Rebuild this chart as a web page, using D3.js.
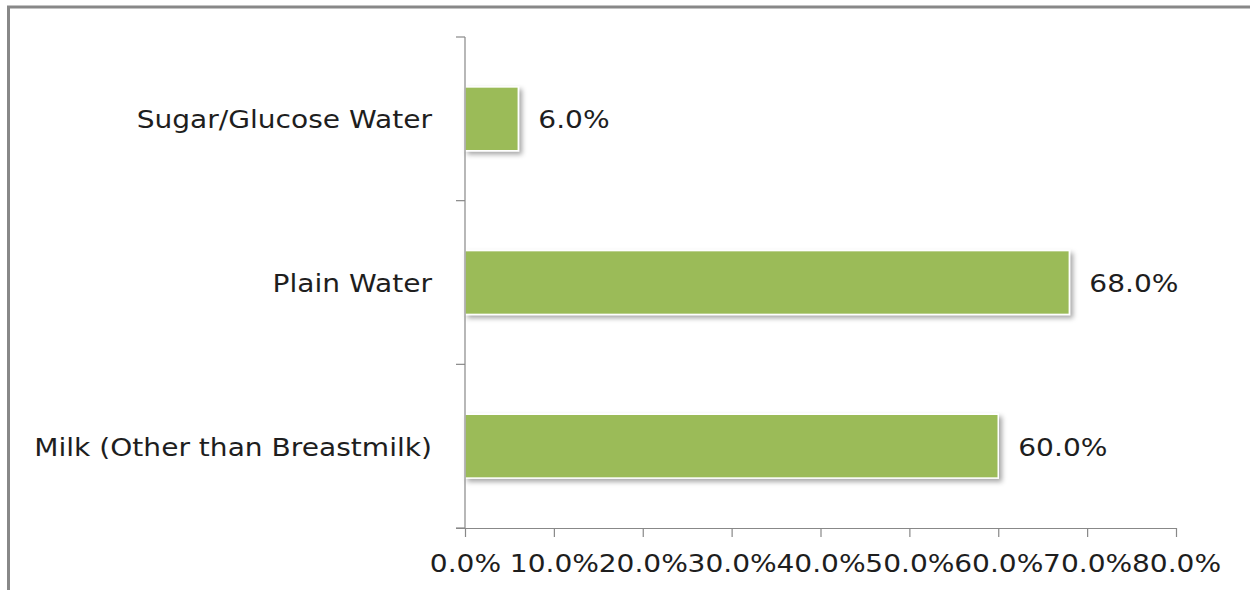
<!DOCTYPE html>
<html>
<head>
<meta charset="utf-8">
<script src="https://cdn.jsdelivr.net/npm/d3@7"></script>
<style>
  html, body { margin: 0; padding: 0; background: #fff; }
  svg { display: block; }
  text { font-family: "DejaVu Sans", sans-serif; fill: #1e1e1e; }
</style>
</head>
<body>
<svg id="chart" width="1250" height="590"></svg>
<script>
const categories = ["Sugar/Glucose Water", "Plain Water", "Milk (Other than Breastmilk)"];
const values = [6.0, 68.0, 60.0];
const xTicks = [0, 10, 20, 30, 40, 50, 60, 70, 80];

const svg = d3.select("#chart");
const margin = { left: 465, right: 74, top: 37, bottom: 62 };
const W = 1250, H = 590;
const FS = 24;
const SX = 1.17; // horizontal text stretch seen in the reference

// frame
svg.append("path")
  .attr("d", `M8.5,${H} L8.5,7 L${W},7`)
  .attr("fill", "none").attr("stroke", "#888").attr("stroke-width", 3);

const x = d3.scaleLinear().domain([0, 80]).range([margin.left, W - margin.right]);
const y = d3.scaleBand().domain(categories).range([margin.top, H - margin.bottom]).paddingInner(0.61).paddingOuter(0.305);

const defs = svg.append("defs");
const f = defs.append("filter").attr("id", "shadow").attr("x", "-10%").attr("y", "-20%").attr("width", "130%").attr("height", "160%");
f.append("feDropShadow").attr("dx", 3).attr("dy", 3).attr("stdDeviation", 2.5).attr("flood-color", "#000").attr("flood-opacity", 0.35);

// bars
svg.selectAll("rect.bar").data(categories).join("rect")
  .attr("class", "bar")
  .attr("x", x(0))
  .attr("y", d => y(d))
  .attr("width", (d, i) => x(values[i]) - x(0))
  .attr("height", y.bandwidth())
  .attr("fill", "#9BBB59")
  .attr("stroke", "#fff").attr("stroke-width", 1.5)
  .attr("filter", "url(#shadow)");

// value labels
svg.selectAll("text.val").data(categories).join("text")
  .attr("class", "val")
  .attr("transform", (d, i) => `translate(${x(values[i]) + 20},${y(d) + y.bandwidth() / 2}) scale(${SX},1)`)
  .attr("dy", "0.4em")
  .attr("font-size", FS)
  .text((d, i) => values[i].toFixed(1) + "%");

// y axis
svg.append("line").attr("x1", x(0)).attr("x2", x(0)).attr("y1", margin.top).attr("y2", H - margin.bottom).attr("stroke", "#888").attr("stroke-width", 1.2);
const step = y.step();
const ends = [margin.top].concat(categories.map(d => y(d) - step * y.paddingInner() / 2 + step));
svg.selectAll("line.ytick").data(ends).join("line")
  .attr("class", "ytick")
  .attr("x1", x(0) - 9).attr("x2", x(0))
  .attr("y1", d => d).attr("y2", d => d)
  .attr("stroke", "#888").attr("stroke-width", 1.2);

svg.selectAll("text.cat").data(categories).join("text")
  .attr("class", "cat")
  .attr("transform", d => `translate(${x(0) - 33},${y(d) + y.bandwidth() / 2}) scale(${SX},1)`)
  .attr("dy", "0.4em")
  .attr("text-anchor", "end")
  .attr("font-size", FS)
  .text(d => d);

// x axis
const xAxis = d3.axisBottom(x).tickValues(xTicks).tickSize(9).tickPadding(18).tickFormat(d => d.toFixed(1) + "%");
const gx = svg.append("g").attr("transform", `translate(0,${H - margin.bottom})`).call(xAxis);
gx.select(".domain").attr("stroke", "#888").attr("stroke-width", 1.2).attr("d", `M${x(0) - 9},0.5H${x(80)}`);
gx.selectAll(".tick line").attr("stroke", "#888").attr("stroke-width", 1.2);
gx.selectAll(".tick text")
  .attr("font-size", FS).attr("font-family", "DejaVu Sans, sans-serif").attr("fill", "#1e1e1e")
  .attr("transform", `scale(${SX},1)`);
</script>
</body>
</html>
